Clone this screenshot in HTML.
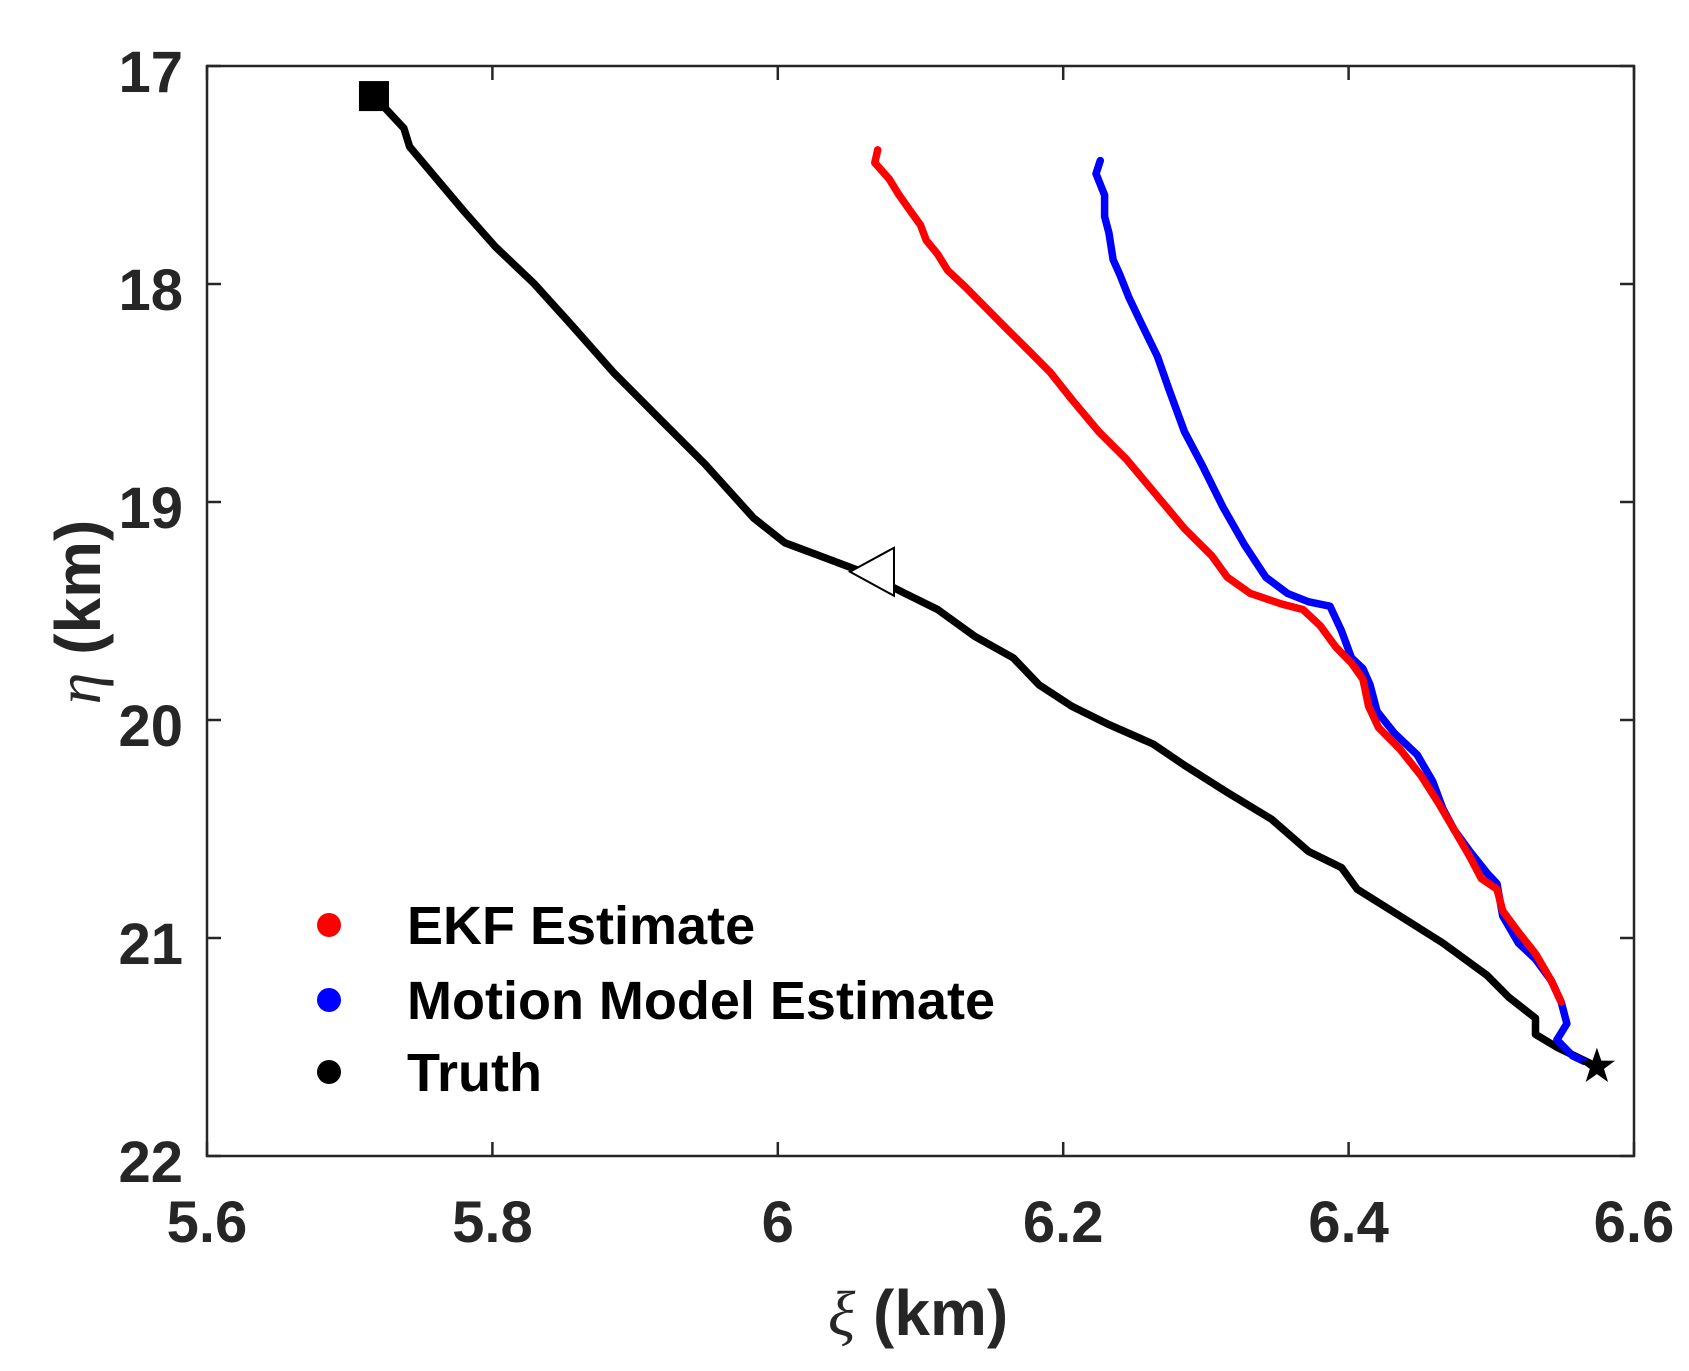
<!DOCTYPE html>
<html><head><meta charset="utf-8"><style>
html,body{margin:0;padding:0;background:#fff;}
svg{display:block;font-family:"Liberation Sans",sans-serif;}
</style></head><body>
<svg id="chart" width="1689" height="1371" viewBox="0 0 1689 1371">
<rect x="0" y="0" width="1689" height="1371" fill="#fff"/>
<g id="plot"></g>
<g id="axes"></g>
<g id="legend">
 <circle cx="329" cy="925" r="12" fill="#ff0000"/>
 <text x="407" y="944" font-size="54" font-weight="bold" fill="#000">EKF Estimate</text>
 <circle cx="329" cy="1000" r="12" fill="#0000ff"/>
 <text x="407" y="1019" font-size="54" font-weight="bold" fill="#000">Motion Model Estimate</text>
 <circle cx="329" cy="1072" r="12" fill="#000"/>
 <text x="407" y="1091" font-size="54" font-weight="bold" fill="#000">Truth</text>
</g>
</svg>
<script>
const xTicks=[5.6,5.8,6,6.2,6.4,6.6];
const xTickLabels=["5.6","5.8","6","6.2","6.4","6.6"];
const yTicks=[17,18,19,20,21,22];
const yTickLabels=["17","18","19","20","21","22"];
const truthX=[5.717,5.738,5.742,5.761,5.780,5.802,5.829,5.855,5.885,5.915,5.949,5.983,6.005,6.029,6.059,6.089,6.112,6.138,6.165,6.183,6.206,6.232,6.263,6.285,6.315,6.346,6.372,6.395,6.406,6.436,6.466,6.497,6.512,6.531,6.531,6.546,6.574];
const truthY=[17.138,17.286,17.370,17.518,17.666,17.829,17.997,18.185,18.407,18.604,18.826,19.073,19.187,19.246,19.320,19.419,19.493,19.616,19.715,19.838,19.937,20.021,20.110,20.208,20.332,20.455,20.603,20.677,20.776,20.899,21.023,21.171,21.270,21.368,21.442,21.501,21.590];
const ekfX=[6.070,6.068,6.078,6.085,6.093,6.100,6.104,6.112,6.119,6.131,6.146,6.161,6.176,6.191,6.206,6.225,6.244,6.263,6.285,6.304,6.315,6.331,6.353,6.368,6.380,6.391,6.402,6.410,6.414,6.421,6.436,6.451,6.463,6.474,6.485,6.493,6.504,6.508,6.519,6.531,6.542,6.549];
const ekfY=[17.385,17.444,17.518,17.592,17.666,17.730,17.799,17.863,17.937,18.011,18.110,18.209,18.307,18.406,18.530,18.678,18.802,18.950,19.122,19.246,19.345,19.419,19.468,19.493,19.567,19.665,19.739,19.813,19.937,20.035,20.134,20.258,20.381,20.504,20.628,20.727,20.776,20.875,20.973,21.072,21.195,21.294];
const motionX=[6.226,6.223,6.229,6.229,6.232,6.235,6.240,6.246,6.255,6.266,6.274,6.285,6.297,6.312,6.327,6.342,6.357,6.372,6.387,6.395,6.402,6.410,6.415,6.420,6.432,6.448,6.459,6.466,6.474,6.485,6.497,6.504,6.508,6.519,6.531,6.542,6.549,6.553,6.546,6.557,6.565];
const motionY=[17.434,17.494,17.592,17.691,17.765,17.888,17.962,18.061,18.185,18.332,18.481,18.678,18.826,19.024,19.196,19.345,19.419,19.458,19.478,19.591,19.715,19.764,19.838,19.961,20.060,20.159,20.282,20.406,20.504,20.603,20.702,20.751,20.899,21.023,21.097,21.195,21.294,21.393,21.467,21.541,21.566];
const startPt=[5.717,17.138];
const midPt=[6.066,19.320];
const endPt=[6.574,21.590];

const L=207,R=1634,T=66,B=1156;
const xMin=5.6,xMax=6.6,yMin=17,yMax=22;
function sx(v){return L+(v-xMin)/(xMax-xMin)*(R-L);}
function sy(v){return T+(v-yMin)/(yMax-yMin)*(B-T);}
const NS="http://www.w3.org/2000/svg";
function mk(tag,attrs,parent){const e=document.createElementNS(NS,tag);for(const k in attrs)e.setAttribute(k,attrs[k]);parent.appendChild(e);return e;}
const plot=document.getElementById('plot'),axes=document.getElementById('axes');

function series(xs,ys,color,name){
  const d=xs.map((x,i)=>(i?'L':'M')+sx(x).toFixed(1)+','+sy(ys[i]).toFixed(1)).join(' ');
  const p=mk('path',{d:d,fill:'none',stroke:color,'stroke-width':7.5,'stroke-linejoin':'round','stroke-linecap':'round'},plot);
  
  
}
series(truthX,truthY,'#000','truth-line');
series(motionX,motionY,'#0000ff','motion-model-line');
series(ekfX,ekfY,'#ff0000','ekf-line');

const sq=mk('rect',{x:sx(startPt[0])-15,y:sy(startPt[1])-15,width:30,height:30,fill:'#000'},plot);


const mx=sx(midPt[0]),my=sy(midPt[1]);
const tri=mk('polygon',{points:`${mx-22},${my} ${mx+22},${my-24} ${mx+22},${my+24}`,fill:'#fff',stroke:'#000','stroke-width':2},plot);


const ex=sx(endPt[0]),ey=sy(endPt[1]);let pts=[];
for(let i=0;i<10;i++){const r=i%2?7.5:19;const a=-Math.PI/2+i*Math.PI/5;pts.push((ex+r*Math.cos(a)).toFixed(1)+','+(ey+r*Math.sin(a)).toFixed(1));}
const star=mk('polygon',{points:pts.join(' '),fill:'#000'},plot);



const box=mk('rect',{x:L,y:T,width:R-L,height:B-T,fill:'none',stroke:'#262626','stroke-width':2.5},axes);


xTicks.forEach((v,i)=>{
  const x=sx(v);
  mk('line',{x1:x,y1:B,x2:x,y2:B-14,stroke:'#262626','stroke-width':2.5},axes);
  mk('line',{x1:x,y1:T,x2:x,y2:T+14,stroke:'#262626','stroke-width':2.5},axes);
  const t=mk('text',{x:x,y:B+86,'font-size':58,'font-weight':'bold','text-anchor':'middle',fill:'#262626'},axes);
  t.textContent=xTickLabels[i];
  
  
});
yTicks.forEach((v,i)=>{
  const y=sy(v);
  mk('line',{x1:L,y1:y,x2:L+14,y2:y,stroke:'#262626','stroke-width':2.5},axes);
  mk('line',{x1:R,y1:y,x2:R-14,y2:y,stroke:'#262626','stroke-width':2.5},axes);
  const t=mk('text',{x:183,y:y+26,'font-size':58,'font-weight':'bold','text-anchor':'end',fill:'#262626'},axes);
  t.textContent=yTickLabels[i];
  
  
});
const xt=mk('text',{x:918,y:1335,'font-size':64,'font-weight':'bold','text-anchor':'middle',fill:'#262626'},axes);
xt.innerHTML='<tspan font-family="Liberation Serif,serif" font-style="italic" font-weight="normal">ξ</tspan> (km)';


const yt=mk('text',{x:0,y:0,'font-size':64,'font-weight':'bold','text-anchor':'middle',fill:'#262626',transform:'translate(100,612) rotate(-90)'},axes);
yt.innerHTML='<tspan font-family="Liberation Serif,serif" font-style="italic" font-weight="normal">η</tspan> (km)';


</script>
</body></html>
